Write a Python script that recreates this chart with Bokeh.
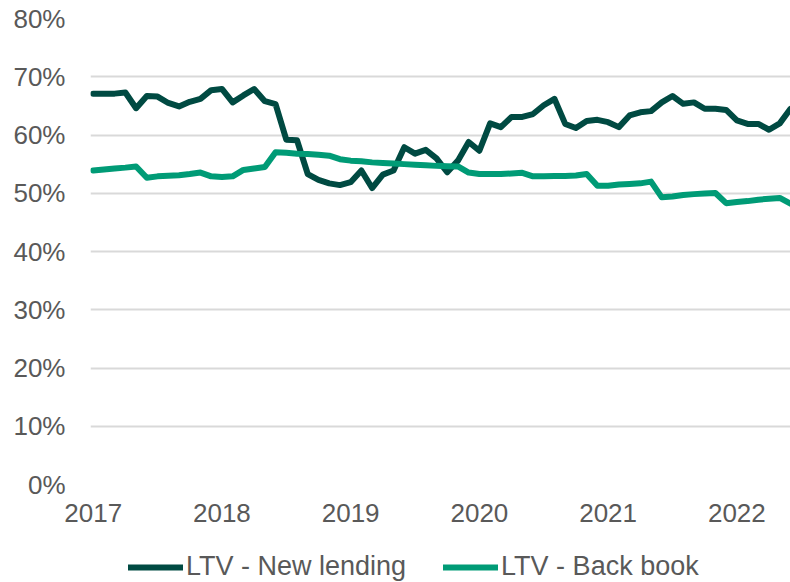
from bokeh.plotting import figure
from bokeh.layouts import column
from bokeh.models import Range1d, FixedTicker, PrintfTickFormatter, Legend, LegendItem, ColumnDataSource
from bokeh.embed import file_html
from bokeh.resources import INLINE

# Monthly data, Jan 2017 .. Jun 2022 (values in %)
year_labels = ["2017", "2018", "2019", "2020", "2021", "2022"]
y_tick_values = [0, 10, 20, 30, 40, 50, 60, 70, 80]
series_names = ["LTV - New lending", "LTV - Back book"]

new_lending = [
    67.1, 67.1, 67.1, 67.3, 64.6, 66.7, 66.6, 65.5, 64.9, 65.7, 66.2, 67.7,
    67.9, 65.6, 66.8, 67.9, 65.8, 65.3, 59.2, 59.1, 53.3, 52.3, 51.7, 51.4,
    51.9, 53.9, 50.9, 53.2, 53.9, 57.9, 56.8, 57.45, 56.0, 53.6, 55.6, 58.8,
    57.3, 62.0, 61.35, 63.1, 63.1, 63.6, 65.1, 66.2, 61.9, 61.2, 62.4, 62.6,
    62.2, 61.35, 63.35, 63.9, 64.1, 65.6, 66.7, 65.35, 65.6, 64.5, 64.5, 64.3,
    62.5, 61.9, 61.9, 60.9, 62.0, 64.5,
]
back_book = [
    53.9, 54.08, 54.25, 54.4, 54.6, 52.65, 52.9, 53.0, 53.1, 53.3, 53.55, 52.9,
    52.8, 52.9, 54.0, 54.25, 54.5, 57.05, 56.95, 56.8, 56.75, 56.6, 56.45, 55.85,
    55.6, 55.5, 55.3, 55.2, 55.1, 55.0, 54.9, 54.8, 54.7, 54.65, 54.6, 53.55,
    53.3, 53.3, 53.3, 53.4, 53.5, 52.9, 52.9, 52.95, 52.95, 53.05, 53.3, 51.3,
    51.3, 51.5, 51.6, 51.7, 52.0, 49.3, 49.45, 49.7, 49.85, 49.95, 50.05, 48.3,
    48.5, 48.65, 48.9, 49.05, 49.2, 48.2,
]
months = list(range(len(new_lending)))

source = ColumnDataSource(dict(m=months, nl=new_lending, bb=back_book))

FONT = "Liberation Sans"
TXT = "#595959"
DARK = "#004A42"
LIGHT = "#009B76"
LW = 6

p = figure(width=790, height=536, output_backend="svg", toolbar_location=None,
           x_range=Range1d(-0.25, len(months) - 1), y_range=Range1d(0, 80),
           min_border_left=90, min_border_right=0, min_border_top=18,
           min_border_bottom=52)
p.outline_line_color = None
p.background_fill_color = "white"

p.line("m", "nl", source=source, line_color=DARK, line_width=LW,
       line_join="round", line_cap="round")
p.line("m", "bb", source=source, line_color=LIGHT, line_width=LW,
       line_join="round", line_cap="round")

# axes
p.yaxis.ticker = FixedTicker(ticks=y_tick_values)
p.yaxis.formatter = PrintfTickFormatter(format="%d%%")
p.xaxis.ticker = FixedTicker(ticks=[12 * i for i in range(len(year_labels))])
p.xaxis.major_label_overrides = {12 * i: y for i, y in enumerate(year_labels)}
for ax in (p.xaxis[0], p.yaxis[0]):
    ax.axis_line_color = None
    ax.major_tick_line_color = None
    ax.minor_tick_line_color = None
    ax.major_tick_out = 0
    ax.major_tick_in = 0
    ax.major_label_text_font = FONT
    ax.major_label_text_font_size = "26px"
    ax.major_label_text_color = TXT
p.yaxis.major_label_standoff = 25
p.xaxis.major_label_standoff = 19

p.xgrid.grid_line_color = None
p.ygrid.grid_line_color = "#D9D9D9"
p.ygrid.grid_line_width = 2

# legend strip below the chart: same series drawn again, but outside this
# strip's visible range, so only the legend entries show
p2 = figure(width=790, height=46, output_backend="svg", toolbar_location=None,
            x_range=Range1d(-1000, -999), y_range=Range1d(-1000, -999),
            x_axis_location=None, y_axis_location=None,
            min_border_left=0, min_border_right=0, min_border_top=0,
            min_border_bottom=0)
p2.outline_line_color = None
p2.grid.visible = False
g1 = p2.line("m", "nl", source=source, line_color=DARK, line_width=LW, line_cap="round")
g2 = p2.line("m", "bb", source=source, line_color=LIGHT, line_width=LW, line_cap="round")

legend = Legend(items=[LegendItem(label=series_names[0], renderers=[g1]),
                       LegendItem(label=series_names[1], renderers=[g2])],
                location=(38, 0), orientation="horizontal",
                glyph_width=55, glyph_height=30, label_height=30,
                label_standoff=3, spacing=37,
                padding=0, margin=0, border_line_color=None,
                background_fill_alpha=0,
                label_text_font=FONT, label_text_font_size="27px",
                label_text_color=TXT)
p2.add_layout(legend, "center")

open("out.html", "w").write(file_html(column(p, p2, spacing=0), INLINE))
